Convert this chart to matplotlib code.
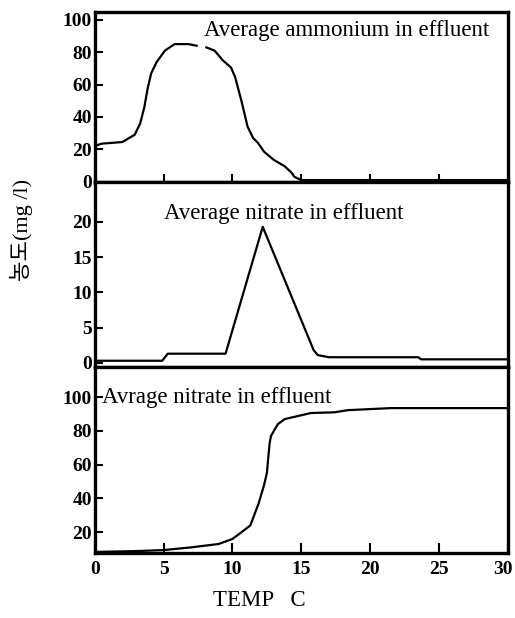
import numpy as np
import matplotlib
matplotlib.use("Agg")
import matplotlib.pyplot as plt
from matplotlib.transforms import ScaledTranslation

# ---- data ----
temp_amm = [0, 0.5, 2.0, 2.9, 3.3, 3.6, 3.85, 4.1, 4.5, 5.1, 5.8, 6.8, 7.4, 7.7, 8.1, 8.7, 9.3, 9.9, 10.2, 10.65, 11.1, 11.5, 11.85, 12.3, 13.0, 13.8, 14.3, 14.5, 15, 20, 25, 30]
ammonium = [22, 23.5, 24.5, 29, 36, 46, 58, 67, 74, 81, 85, 85, 84, np.nan, 83, 81, 75, 70.5, 64.5, 50, 34, 27, 24, 18.5, 13.5, 9.5, 5.5, 3, 1, 1, 1, 1]

temp_no2 = [0, 4.9, 5.3, 9.5, 12.2, 15.9, 16.2, 17.0, 23.5, 23.7, 30]
nitrate_mid = [0.3, 0.3, 1.3, 1.3, 19.3, 1.8, 1.1, 0.8, 0.8, 0.5, 0.5]

temp_no3 = [0, 3.0, 5.0, 7.0, 9.0, 10.0, 10.5, 11.3, 11.9, 12.3, 12.5, 12.7, 12.8, 13.3, 13.8, 15.7, 17.4, 18.4, 21.5, 30]
nitrate_bot = [8.3, 8.8, 9.4, 11, 13, 16, 19, 24, 37, 48, 55, 72.6, 77, 84, 87, 90.6, 91, 92.3, 93.5, 93.5]

xticks = [0, 5, 10, 15, 20, 25, 30]
yticks_top = [0, 20, 40, 60, 80, 100]
yticks_mid = [0, 5, 10, 15, 20]
yticks_bot = [20, 40, 60, 80, 100]

titles = ["Average ammonium in effluent", "Average nitrate in effluent", "Avrage nitrate in effluent"]

# ---- figure ----
serif = "Liberation Serif"
plt.rcParams['font.family'] = [serif, 'Noto Sans CJK KR', 'DejaVu Sans']
fig = plt.figure(figsize=(5.15, 6.18), dpi=100)

L, W = 0.184, 0.802
ax1 = fig.add_axes([L, 0.706, W, 0.275])
ax2 = fig.add_axes([L, 0.406, W, 0.300])
ax3 = fig.add_axes([L, 0.105, W, 0.301])

lw_frame = 2.4
fs_tick = 14
fs_text = 16.5

for ax in (ax1, ax2, ax3):
    ax.set_xlim(0, 30)
    for s in ax.spines.values():
        s.set_linewidth(lw_frame)
    ax.tick_params(direction='in', length=6, width=1.5, labelsize=fs_tick, pad=2)
    ax.set_xticks(xticks)

ax1.plot(temp_amm, ammonium, color='black', lw=1.6)
ax1.set_ylim(0, 105)
ax1.set_yticks(yticks_top)
ax1.tick_params(axis='x', labelbottom=False)
ax1.text(7.95, 93.5, titles[0], fontsize=fs_text, va='center', ha='left')

ax2.plot(temp_no2, nitrate_mid, color='black', lw=1.6)
ax2.set_ylim(-0.6, 25.7)
ax2.set_yticks(yticks_mid)
ax2.tick_params(axis='x', labelbottom=False, length=0)
ax2.text(5.05, 21.2, titles[1], fontsize=fs_text, va='center', ha='left')

ax3.plot(temp_no3, nitrate_bot, color='black', lw=1.6)
ax3.set_ylim(7.6, 117.8)
ax3.set_yticks(yticks_bot)
ax3.tick_params(axis='x', length=7, pad=6)
ax3.text(0.55, 99.5, titles[2], fontsize=fs_text, va='center', ha='left')

for ax in (ax1, ax2, ax3):
    for t in ax.get_yticklabels() + ax.get_xticklabels():
        t.set_fontweight('bold')

# nudge last x tick label inside the figure
fig.canvas.draw()
lbls = ax3.get_xticklabels()
lbls[-1].set_transform(lbls[-1].get_transform() + ScaledTranslation(-5 / 100, 0, fig.dpi_scale_trans))

fig.text(259 / 515, 1 - 600 / 618, "TEMP   C", fontsize=fs_text, ha='center', va='center')
fig.text(21 / 515, 1 - 230 / 618, "농도(mg /l)", fontsize=16, rotation=90,
         ha='center', va='center')

fig.savefig("out.png", dpi=100)
